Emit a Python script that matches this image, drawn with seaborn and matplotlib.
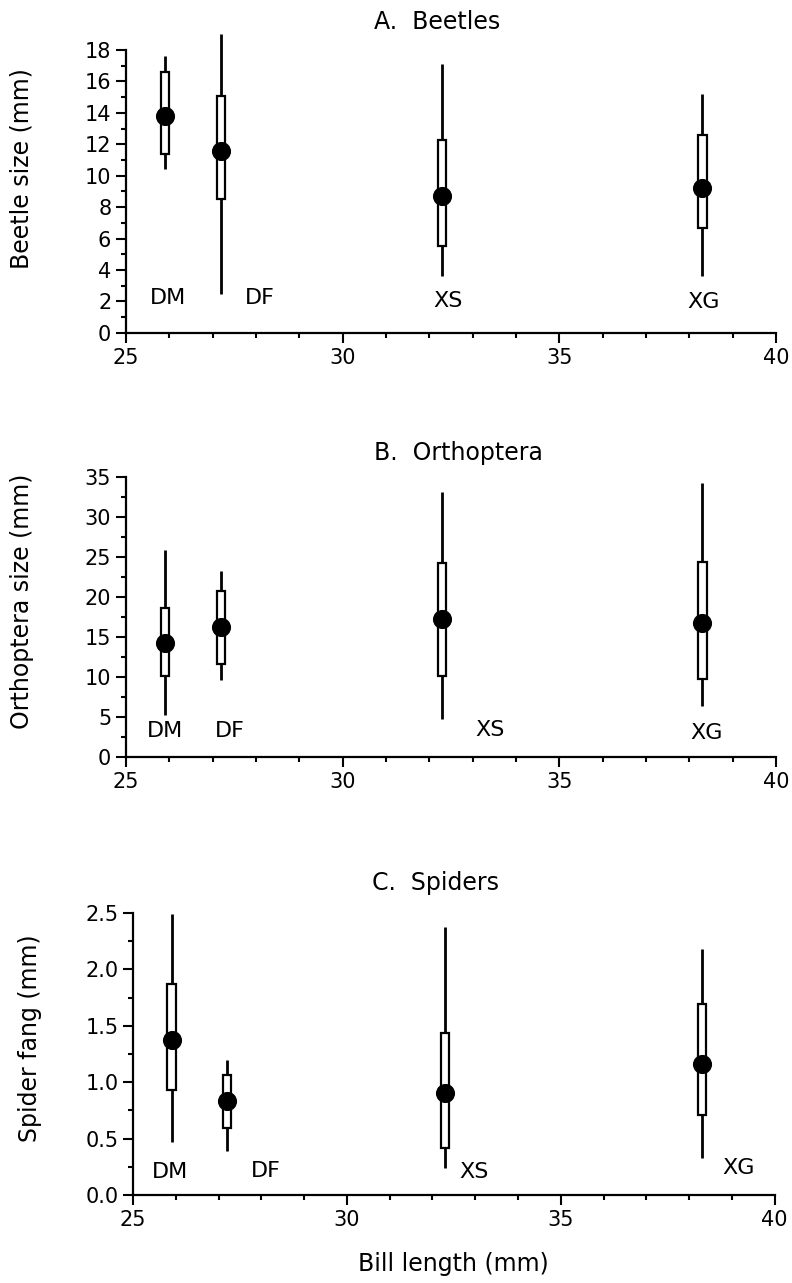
import matplotlib
matplotlib.use('Agg')
import matplotlib.pyplot as plt
from matplotlib.ticker import MultipleLocator, FormatStrFormatter
import seaborn as sns
import pandas as pd

# species and mean bill length (mm)
species = ['DM', 'DF', 'XS', 'XG']
bill = [25.9, 27.2, 32.3, 38.3]

# A. Beetles
beetle_med = [13.8, 11.6, 8.7, 9.2]
beetle_q1 = [11.4, 8.5, 5.5, 6.7]
beetle_q3 = [16.6, 15.1, 12.3, 12.6]
beetle_min = [10.4, 2.5, 3.6, 3.6]
beetle_max = [17.6, 19.0, 17.1, 15.2]

# B. Orthoptera
orth_med = [14.2, 16.3, 17.2, 16.8]
orth_q1 = [10.1, 11.6, 10.1, 9.7]
orth_q3 = [18.6, 20.7, 24.3, 24.4]
orth_min = [5.3, 9.6, 4.8, 6.4]
orth_max = [25.9, 23.2, 33.1, 34.3]

# C. Spiders
spider_med = [1.37, 0.83, 0.90, 1.16]
spider_q1 = [0.93, 0.59, 0.42, 0.71]
spider_q3 = [1.87, 1.06, 1.44, 1.69]
spider_min = [0.47, 0.39, 0.24, 0.33]
spider_max = [2.49, 1.20, 2.38, 2.18]

sns.set_style('ticks')
plt.rcParams['font.family'] = ['DejaVu Sans']
plt.rcParams['text.color'] = 'black'
plt.rcParams['axes.labelcolor'] = 'black'
plt.rcParams['xtick.color'] = 'black'
plt.rcParams['ytick.color'] = 'black'

fig = plt.figure(figsize=(7.92, 12.83), dpi=100)
ax_a = fig.add_axes([0.159, 0.7405, 0.821, 0.2206])
ax_b = fig.add_axes([0.159, 0.410, 0.821, 0.2182])
ax_c = fig.add_axes([0.168, 0.0686, 0.810, 0.2198])


def panel(ax, med, q1, q3, lo, hi, ylab, ymax, major, minor, lab_pos, ylab_y):
    df = pd.DataFrame({'bill': bill, 'med': med, 'q1': q1, 'q3': q3,
                       'lo': lo, 'hi': hi, 'sp': species})
    ax.vlines(df['bill'], df['lo'], df['hi'], color='black', lw=2, zorder=1, clip_on=False)
    ax.bar(df['bill'], df['q3'] - df['q1'], bottom=df['q1'], width=0.19,
           color='white', edgecolor='black', linewidth=1.6, zorder=2, clip_on=False)
    sns.scatterplot(data=df, x='bill', y='med', ax=ax, color='black', s=190,
                    edgecolor='black', linewidth=0, zorder=3, clip_on=False)
    for sp, (lx, ly) in zip(species, lab_pos):
        ax.text(lx, ly, sp, fontsize=16, ha='center', va='center')

    ax.set_xlim(25, 40)
    ax.set_ylim(0, ymax)
    ax.xaxis.set_major_locator(MultipleLocator(5))
    ax.xaxis.set_minor_locator(MultipleLocator(1))
    ax.yaxis.set_major_locator(MultipleLocator(major))
    ax.yaxis.set_minor_locator(MultipleLocator(minor))
    ax.tick_params(which='major', length=7, width=1.5, labelsize=15)
    ax.tick_params(which='minor', length=3.5, width=1.5)
    ax.tick_params(axis='x', pad=4)
    sns.despine(ax=ax)
    for s in ['left', 'bottom']:
        ax.spines[s].set_linewidth(1.6)
        ax.spines[s].set_color('black')
    ax.set_xlabel('')
    ax.set_ylabel(ylab, fontsize=17)
    ax.yaxis.set_label_coords(-0.142, ylab_y)


panel(ax_a, beetle_med, beetle_q1, beetle_q3, beetle_min, beetle_max,
      'Beetle size (mm)', 18, 2, 1,
      [(25.97, 2.2), (28.09, 2.2), (32.44, 2.05), (38.32, 1.95)], 0.58)
panel(ax_b, orth_med, orth_q1, orth_q3, orth_min, orth_max,
      'Orthoptera size (mm)', 35, 5, 2.5,
      [(25.9, 3.2), (27.4, 3.2), (33.39, 3.4), (38.39, 2.96)], 0.555)
panel(ax_c, spider_med, spider_q1, spider_q3, spider_min, spider_max,
      'Spider fang (mm)', 2.5, 0.5, 0.25,
      [(25.86, 0.207), (28.1, 0.216), (32.97, 0.204), (39.17, 0.237)], 0.557)
ax_c.yaxis.set_major_formatter(FormatStrFormatter('%.1f'))
ax_c.set_xlabel('Bill length (mm)', fontsize=17, labelpad=16)

fig.text(0.472, 1 - 29 / 1283, 'A.  Beetles', fontsize=17, ha='left', va='baseline')
fig.text(0.472, 1 - 460 / 1283, 'B.  Orthoptera', fontsize=17, ha='left', va='baseline')
fig.text(0.470, 1 - 890 / 1283, 'C.  Spiders', fontsize=17, ha='left', va='baseline')

fig.savefig('out.png', dpi=100)
